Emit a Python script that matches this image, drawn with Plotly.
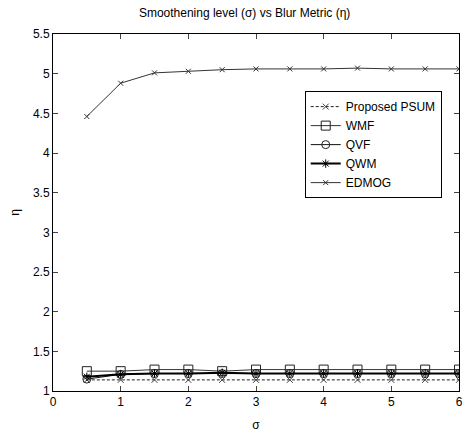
import plotly.graph_objects as go

sigma = [0.5, 1, 1.5, 2, 2.5, 3, 3.5, 4, 4.5, 5, 5.5, 6]
psum = [1.14, 1.14, 1.14, 1.14, 1.14, 1.14, 1.14, 1.14, 1.14, 1.14, 1.14, 1.14]
wmf = [1.25, 1.25, 1.27, 1.27, 1.25, 1.27, 1.27, 1.27, 1.27, 1.27, 1.27, 1.27]
qvf = [1.15, 1.21, 1.22, 1.22, 1.22, 1.22, 1.22, 1.22, 1.22, 1.22, 1.22, 1.22]
qwm = [1.18, 1.21, 1.22, 1.22, 1.23, 1.22, 1.22, 1.22, 1.22, 1.22, 1.22, 1.22]
edmog = [4.46, 4.88, 5.01, 5.03, 5.05, 5.06, 5.06, 5.06, 5.07, 5.06, 5.06, 5.06]

font = "Liberation Sans, Arial, sans-serif"
fig = go.Figure()
fig.add_trace(go.Scatter(x=sigma, y=psum, name="Proposed PSUM", mode="lines+markers",
                         line=dict(color="#222", width=1, dash="3px,2px"),
                         marker=dict(symbol="x-thin-open", size=6, color="#444", line=dict(width=1, color="#444"))))
fig.add_trace(go.Scatter(x=sigma, y=wmf, name="WMF", mode="lines+markers",
                         line=dict(color="#333", width=1),
                         marker=dict(symbol="square-open", size=9, color="#222", line=dict(width=1))))
fig.add_trace(go.Scatter(x=sigma, y=qvf, name="QVF", mode="lines+markers",
                         line=dict(color="#111", width=1),
                         marker=dict(symbol="circle-open", size=8, color="#222", line=dict(width=1))))
fig.add_trace(go.Scatter(x=sigma, y=qwm, name="QWM", mode="lines+markers",
                         line=dict(color="#000", width=2),
                         marker=dict(symbol="asterisk-open", size=7, color="#000", line=dict(width=1))))
fig.add_trace(go.Scatter(x=sigma, y=edmog, name="EDMOG", mode="lines+markers",
                         line=dict(color="#333", width=1),
                         marker=dict(symbol="x-thin-open", size=5, color="#333", line=dict(width=1, color="#333"))))

fig.update_layout(
    width=475, height=442,
    margin=dict(l=53, r=12, t=34, b=41),
    paper_bgcolor="white", plot_bgcolor="white",
    font=dict(family=font, size=11, color="#000"),
    title=dict(text="Smoothening level (σ) vs Blur Metric (η)", x=0.515, xanchor="center",
               y=0.972, yanchor="middle", font=dict(size=12, family=font)),
    showlegend=True,
    legend=dict(x=0.62, y=0.84, xanchor="left", yanchor="top",
                bordercolor="#000", borderwidth=1, bgcolor="white",
                font=dict(size=12, family=font), tracegroupgap=0, itemwidth=30),
    xaxis=dict(range=[0, 6], tickvals=[0, 1, 2, 3, 4, 5, 6], ticks="inside", ticklen=5,
               showline=True, linecolor="#000", linewidth=1, mirror="ticks",
               showgrid=False, zeroline=False, tickfont=dict(size=12),
               title=dict(text="σ", standoff=12, font=dict(size=12))),
    yaxis=dict(range=[1, 5.5], tickvals=[1, 1.5, 2, 2.5, 3, 3.5, 4, 4.5, 5, 5.5],
               ticktext=["1", "1.5", "2", "2.5", "3", "3.5", "4", "4.5", "5", "5.5"],
               ticks="inside", ticklen=5,
               showline=True, linecolor="#000", linewidth=1, mirror="ticks",
               showgrid=False, zeroline=False, tickfont=dict(size=12),
               title=dict(text="η", standoff=10, font=dict(size=12))),
)
fig.write_html("out.html")
